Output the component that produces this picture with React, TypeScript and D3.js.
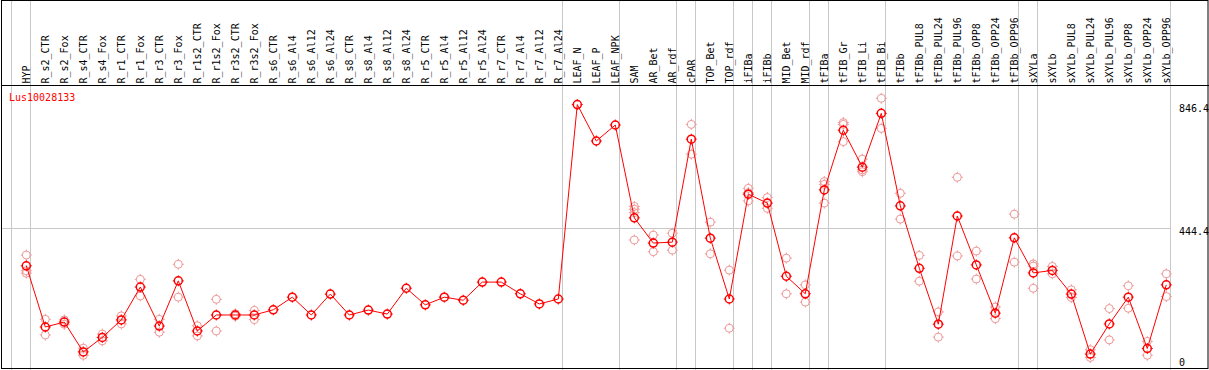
import React from 'react';
import * as d3 from 'd3';

// sample columns, left to right
const categories = [
  'HYP',
  'R_s2_CTR', 'R_s2_Fox', 'R_s4_CTR', 'R_s4_Fox', 'R_r1_CTR', 'R_r1_Fox', 'R_r3_CTR', 'R_r3_Fox',
  'R_r1s2_CTR', 'R_r1s2_Fox', 'R_r3s2_CTR', 'R_r3s2_Fox',
  'R_s6_CTR', 'R_s6_Al4', 'R_s6_Al12', 'R_s6_Al24', 'R_s8_CTR', 'R_s8_Al4', 'R_s8_Al12', 'R_s8_Al24',
  'R_r5_CTR', 'R_r5_Al4', 'R_r5_Al12', 'R_r5_Al24', 'R_r7_CTR', 'R_r7_Al4', 'R_r7_Al12', 'R_r7_Al24',
  'LEAF_N', 'LEAF_P', 'LEAF_NPK',
  'SAM', 'AR_Bet', 'AR_rdf',
  'cPAR',
  'TOP_Bet', 'TOP_rdf',
  'iFIBa',
  'iFIBb',
  'MID_Bet', 'MID_rdf',
  'tFIBa',
  'tFIB_Gr', 'tFIB_Li', 'tFIB_Bi',
  'tFIBb', 'tFIBb_PUL8', 'tFIBb_PUL24', 'tFIBb_PUL96', 'tFIBb_OPP8', 'tFIBb_OPP24', 'tFIBb_OPP96',
  'sXYLa',
  'sXYLb', 'sXYLb_PUL8', 'sXYLb_PUL24', 'sXYLb_PUL96', 'sXYLb_OPP8', 'sXYLb_OPP24', 'sXYLb_OPP96',
];

// how many columns in each separated group
const groupSizes = [1, 28, 3, 3, 1, 2, 1, 1, 2, 1, 3, 7, 1, 7];

const geneName = 'Lus10028133';

// mean expression per column
const means = [
  322,
  123, 139, 42, 89, 146, 253, 126, 273,
  110, 162, 162, 162,
  179, 220, 162, 230, 162, 178, 165, 249,
  195, 220, 210, 269, 269, 231, 198, 214,
  846.4, 728, 780,
  478, 396, 399,
  734,
  412, 214,
  555,
  526,
  288, 231,
  569,
  763, 643, 818,
  517, 314, 132, 484, 325, 168, 413,
  299,
  307, 230, 35, 133, 220, 53, 260,
];

// individual replicates per column
const replicates: number[][] = [
  [357, 306, 298],
  [148, 97], [146, 132], [54, 31], [100, 78], [159, 133], [278, 224], [148, 106], [327, 220],
  [127, 94], [213, 110], [166, 158], [177, 147],
  [], [], [], [], [], [], [], [],
  [], [], [], [], [], [], [], [],
  [], [], [],
  [515, 506, 495, 406], [422, 368], [428, 373],
  [782, 685],
  [464, 361], [308, 119],
  [574, 560, 533],
  [544, 509],
  [347, 231], [260, 204],
  [596, 587, 526],
  [788, 782, 726], [669, 634, 628], [867, 769],
  [558, 474], [356, 272], [172, 90], [610, 354], [370, 279], [188, 150], [490, 334],
  [328, 321, 249],
  [320, 296], [244, 219], [49, 24], [183, 81], [257, 184], [76, 31], [296, 222],
];

const yLabels = [846.4, 444.4, 0];
const gridValues = [444.4];

const W = 1209;
const H = 370;
const FONT = '"DejaVu Sans Mono", monospace';

function Marker({ cx, cy, r, color, sw }: { cx: number; cy: number; r: number; color: string; sw: number }) {
  const t = r + 1.5;
  return (
    <g stroke={color} fill="none" strokeWidth={sw}>
      <circle cx={cx} cy={cy} r={r} />
      <line x1={cx} x2={cx} y1={cy - t} y2={cy - r + 0.5} strokeWidth={1} />
      <line x1={cx} x2={cx} y1={cy + r - 0.5} y2={cy + t} strokeWidth={1} />
      <line x1={cx - t} x2={cx - r + 0.5} y1={cy} y2={cy} strokeWidth={1} />
      <line x1={cx + r - 0.5} x2={cx + t} y1={cy} y2={cy} strokeWidth={1} />
    </g>
  );
}

export default function App() {
  const x = d3.scaleBand<string>().domain(categories).range([11, 1170]).padding(0);
  const y = d3.scaleLinear().domain([0, 846.4]).range([364.8, 104.6]);
  const px = (c: string) => (x(c) as number) + 15.3;

  const line = d3
    .line<number>()
    .x((d, i) => px(categories[i]))
    .y((d) => y(d));

  // group boundaries
  const bounds: number[] = [0];
  groupSizes.forEach((s) => bounds.push(bounds[bounds.length - 1] + s));
  const boundX = bounds.map((b) => 11 + b * x.bandwidth());

  return (
    <svg width={W} height={H} style={{ position: 'absolute', left: 0, top: 0, background: '#fff' }}>
      <rect x={0} y={0} width={W} height={H} fill="#fff" />
      {boundX.map((bx, i) => (
        <line key={i} x1={bx + 0.5} x2={bx + 0.5} y1={0} y2={H} stroke="#c8c8c8" />
      ))}
      {gridValues.map((v) => (
        <line key={v} x1={1} x2={1170} y1={Math.round(y(v)) + 0.5} y2={Math.round(y(v)) + 0.5} stroke="#c8c8c8" />
      ))}

      {/* frame */}
      <rect x={1.5} y={0.5} width={W - 2.5} height={H - 2} fill="none" stroke="#000" />
      <line x1={1} x2={W} y1={85.5} y2={85.5} stroke="#000" />

      {categories.map((c) => {
        const tx = (x(c) as number) + 18.5;
        return (
          <text
            key={c}
            transform={`translate(${tx},83.5) rotate(-90)`}
            fontFamily={FONT}
            fontSize={10}
            fill="#000"
          >
            {c}
          </text>
        );
      })}

      <text x={9} y={101} fontFamily={FONT} fontSize={10} fill="#ff0000">
        {geneName}
      </text>

      {yLabels.map((v) => (
        <text key={v} x={1179} y={Math.min(y(v) + 7, 366)} fontFamily={FONT} fontSize={10} fill="#000">
          {String(v)}
        </text>
      ))}

      {replicates.map((reps, i) =>
        reps.map((v, j) => (
          <Marker key={`${i}-${j}`} cx={px(categories[i])} cy={y(v)} r={4} color="#ee9999" sw={1} />
        ))
      )}

      <path d={line(means) || ''} fill="none" stroke="#ff0000" strokeWidth={1} />

      {means.map((v, i) => (
        <Marker key={i} cx={px(categories[i])} cy={y(v)} r={4} color="#ff0000" sw={1.5} />
      ))}
    </svg>
  );
}
